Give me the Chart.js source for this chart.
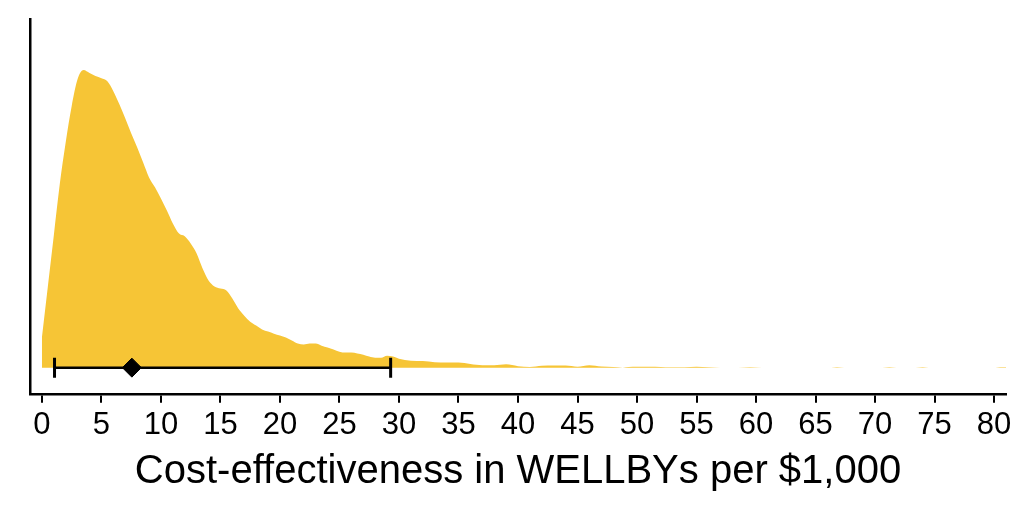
<!DOCTYPE html>
<html>
<head>
<meta charset="utf-8">
<script src="https://cdn.jsdelivr.net/npm/chart.js@4.4.1/dist/chart.umd.min.js"></script>
<style>
  html, body { margin: 0; padding: 0; background: #ffffff; }
  #wrap { width: 1024px; height: 512px; }
</style>
</head>
<body>
<div id="wrap"><canvas id="chartDensidad"></canvas></div>
<script>
// Densidad (kernel) de la rentabilidad
const densityX = [
  0, 0.5, 1, 1.5, 2, 2.5, 3, 3.5, 4, 4.5, 5, 5.5, 6, 6.5, 7, 7.5, 8, 8.5, 9, 9.5,
  10, 10.5, 11, 11.5, 12, 12.5, 13, 13.5, 14, 14.5, 15, 15.5, 16, 16.5, 17, 17.5, 18, 18.5, 19, 19.5,
  20, 20.5, 21, 21.5, 22, 22.5, 23, 23.5, 24, 24.5, 25, 25.5, 26, 26.5, 27, 27.5, 28, 28.5, 29, 29.5,
  30, 31, 32, 33, 34, 35, 36, 37, 38, 39, 40, 41, 42, 43, 44, 45, 46, 47, 48, 48.8,
  49.3, 50, 51, 52, 52.8, 54, 55, 56, 57, 58.5, 59.5, 60.5, 66.3, 66.8, 67.4, 70.6, 71.2, 71.8,
  73.4, 74, 74.5, 80.1, 80.5, 81
];
const densityY = [
  0.100, 0.270, 0.440, 0.610, 0.750, 0.870, 0.960, 0.990, 0.980, 0.970, 0.963, 0.953, 0.920, 0.877, 0.830, 0.780, 0.733, 0.683, 0.633, 0.600,
  0.563, 0.523, 0.480, 0.447, 0.437, 0.413, 0.380, 0.330, 0.290, 0.270, 0.263, 0.257, 0.230, 0.197, 0.173, 0.153, 0.140, 0.127, 0.120, 0.113,
  0.107, 0.100, 0.090, 0.080, 0.077, 0.080, 0.080, 0.073, 0.067, 0.060, 0.053, 0.050, 0.050, 0.047, 0.043, 0.037, 0.033, 0.033, 0.040, 0.037,
  0.030, 0.023, 0.022, 0.018, 0.017, 0.017, 0.012, 0.008, 0.008, 0.011, 0.005, 0.002, 0.006, 0.007, 0.007, 0.003, 0.008, 0.004, 0.002, 0,
  0.002, 0.003, 0.003, 0.0025, 0.0012, 0.0012, 0.003, 0.0012, 0, 0, 0.0012, 0, 0, 0.0012, 0, 0, 0.0012, 0,
  0, 0.0012, 0, 0, 0.0012, 0.0012
];

// Intervalo (percentiles) y valor central
const intervalEnds = [1.06, 29.3];
const centralValue = 7.56;

// Marcas del eje X
const xTicks = [0, 5, 10, 15, 20, 25, 30, 35, 40, 45, 50, 55, 60, 65, 70, 75, 80];
const xTitle = 'Cost-effectiveness in WELLBYs per $1,000';

document.addEventListener("DOMContentLoaded", function () {

    const colorFill = 'rgb(246,197,54)';
    const colorInk = '#000000';
    const fontFamily = '"Liberation Sans", Arial, Helvetica, sans-serif';

    const ctx = document.getElementById('chartDensidad');

    new Chart(ctx, {
        type: 'line',
        data: {
            datasets: [
                {
                    // valor central (rombo)
                    type: 'scatter',
                    data: [{ x: centralValue, y: 0 }],
                    pointStyle: 'rectRot',
                    pointRadius: 9.5,
                    backgroundColor: colorInk,
                    borderColor: colorInk,
                    borderWidth: 1,
                    order: 1
                },
                {
                    // barra del intervalo con topes verticales
                    data: intervalEnds.map(v => ({ x: v, y: 0 })),
                    borderColor: colorInk,
                    borderWidth: 2.5,
                    pointStyle: 'line',
                    rotation: 90,
                    pointRadius: 10,
                    pointBorderWidth: 3,
                    pointBorderColor: colorInk,
                    fill: false,
                    order: 2
                },
                {
                    // densidad
                    data: densityX.map((v, i) => ({ x: v, y: densityY[i] })),
                    borderWidth: 0,
                    borderColor: colorFill,
                    backgroundColor: colorFill,
                    pointRadius: 0,
                    fill: 'origin',
                    cubicInterpolationMode: 'monotone',
                    order: 3
                }
            ]
        },
        options: {
            responsive: true,
            maintainAspectRatio: false,
            animation: false,
            devicePixelRatio: 1,
            layout: { padding: { left: 22, right: 18, top: 19, bottom: 16 } },
            plugins: {
                legend: { display: false },
                tooltip: { enabled: false }
            },
            scales: {
                x: {
                    type: 'linear',
                    min: -1,
                    max: 81,
                    afterBuildTicks: function (scale) {
                        scale.ticks = xTicks.map(v => ({ value: v }));
                    },
                    grid: {
                        display: true,
                        drawOnChartArea: false,
                        drawTicks: true,
                        tickLength: 9,
                        color: colorInk,
                        lineWidth: 2
                    },
                    border: { display: true, color: colorInk, width: 2.5 },
                    ticks: {
                        color: colorInk,
                        font: { family: fontFamily, size: 31 },
                        padding: 4,
                        maxRotation: 0,
                        autoSkip: false
                    },
                    title: {
                        display: true,
                        text: xTitle,
                        color: colorInk,
                        font: { family: fontFamily, size: 40 },
                        padding: { top: 0, bottom: 0 }
                    }
                },
                y: {
                    min: -0.087,
                    max: 1.16,
                    ticks: { display: false },
                    grid: { display: false },
                    border: { display: true, color: colorInk, width: 2.5 }
                }
            }
        }
    });
});
</script>
</body>
</html>
